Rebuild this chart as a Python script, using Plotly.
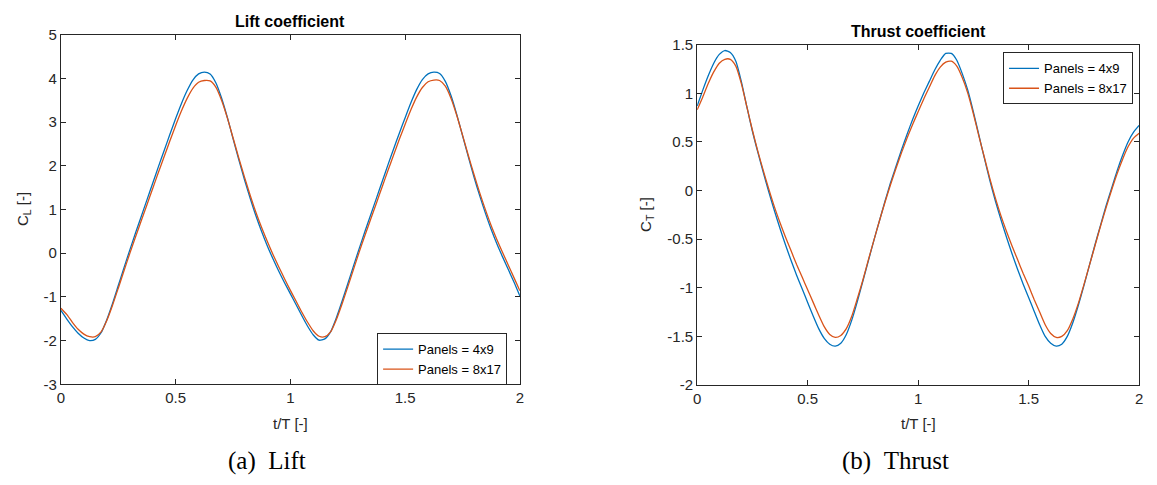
import plotly.graph_objects as go

# Non-dimensional time samples t/T
t_over_T = [
    0.000, 0.025, 0.050, 0.075, 0.100, 0.125, 0.150, 0.175, 0.200, 0.225,
    0.250, 0.275, 0.300, 0.325, 0.350, 0.375, 0.400, 0.425, 0.450, 0.475,
    0.500, 0.525, 0.550, 0.575, 0.600, 0.625, 0.650, 0.675, 0.700, 0.725,
    0.750, 0.775, 0.800, 0.825, 0.850, 0.875, 0.900, 0.925, 0.950, 0.975,
    1.000, 1.025, 1.050, 1.075, 1.100, 1.125, 1.150, 1.175, 1.200, 1.225,
    1.250, 1.275, 1.300, 1.325, 1.350, 1.375, 1.400, 1.425, 1.450, 1.475,
    1.500, 1.525, 1.550, 1.575, 1.600, 1.625, 1.650, 1.675, 1.700, 1.725,
    1.750, 1.775, 1.800, 1.825, 1.850, 1.875, 1.900, 1.925, 1.950, 1.975,
    2.000,
]

# Lift coefficient, coarse mesh (4x9 panels)
cl_4x9 = [
    -1.31, -1.50, -1.68, -1.83, -1.94, -2.00, -1.97, -1.82, -1.52, -1.15,
    -0.74, -0.33, 0.07, 0.46, 0.84, 1.22, 1.60, 1.98, 2.35, 2.72,
    3.08, 3.42, 3.72, 3.96, 4.10, 4.14, 4.10, 3.90, 3.55, 3.11,
    2.62, 2.14, 1.68, 1.25, 0.85, 0.49, 0.16, -0.14, -0.42, -0.68,
    -0.93, -1.18, -1.43, -1.67, -1.87, -1.99, -1.96, -1.80, -1.48, -1.10,
    -0.70, -0.29, 0.11, 0.50, 0.88, 1.26, 1.64, 2.02, 2.39, 2.75,
    3.10, 3.44, 3.74, 3.97, 4.10, 4.14, 4.11, 3.93, 3.60, 3.17,
    2.69, 2.21, 1.74, 1.31, 0.91, 0.54, 0.21, -0.09, -0.38, -0.67,
    -0.98,
]

# Lift coefficient, fine mesh (8x17 panels)
cl_8x17 = [
    -1.26, -1.40, -1.58, -1.74, -1.85, -1.91, -1.91, -1.80, -1.54, -1.19,
    -0.80, -0.40, -0.01, 0.37, 0.74, 1.11, 1.48, 1.85, 2.21, 2.57,
    2.92, 3.25, 3.54, 3.77, 3.91, 3.95, 3.94, 3.80, 3.50, 3.10,
    2.64, 2.18, 1.74, 1.32, 0.93, 0.58, 0.26, -0.04, -0.32, -0.59,
    -0.85, -1.10, -1.35, -1.58, -1.78, -1.90, -1.91, -1.80, -1.52, -1.16,
    -0.77, -0.37, 0.03, 0.41, 0.78, 1.15, 1.52, 1.89, 2.25, 2.61,
    2.95, 3.28, 3.57, 3.79, 3.92, 3.96, 3.95, 3.82, 3.54, 3.15,
    2.70, 2.24, 1.80, 1.38, 0.99, 0.63, 0.31, 0.01, -0.28, -0.57,
    -0.86,
]

# Thrust coefficient, coarse mesh (4x9 panels)
ct_4x9 = [
    0.87, 1.03, 1.18, 1.31, 1.40, 1.44, 1.42, 1.33, 1.12, 0.86,
    0.61, 0.39, 0.18, -0.02, -0.21, -0.39, -0.56, -0.72, -0.87, -1.01,
    -1.15, -1.29, -1.42, -1.52, -1.58, -1.60, -1.57, -1.48, -1.33, -1.14,
    -0.93, -0.72, -0.51, -0.31, -0.11, 0.08, 0.25, 0.42, 0.58, 0.73,
    0.87, 1.00, 1.12, 1.24, 1.34, 1.41, 1.41, 1.34, 1.20, 1.03,
    0.81, 0.57, 0.33, 0.10, -0.11, -0.30, -0.48, -0.65, -0.81, -0.96,
    -1.10, -1.24, -1.38, -1.50, -1.57, -1.60, -1.58, -1.50, -1.36, -1.18,
    -0.98, -0.77, -0.56, -0.36, -0.16, 0.02, 0.20, 0.36, 0.50, 0.60,
    0.67,
]

# Thrust coefficient, fine mesh (8x17 panels)
ct_8x17 = [
    0.83, 0.96, 1.10, 1.22, 1.31, 1.35, 1.35, 1.28, 1.10, 0.86,
    0.62, 0.40, 0.20, 0.01, -0.17, -0.33, -0.48, -0.62, -0.76, -0.89,
    -1.02, -1.15, -1.28, -1.40, -1.48, -1.51, -1.49, -1.42, -1.29, -1.11,
    -0.92, -0.71, -0.51, -0.31, -0.12, 0.06, 0.23, 0.39, 0.54, 0.68,
    0.81, 0.94, 1.06, 1.18, 1.27, 1.32, 1.33, 1.28, 1.16, 1.00,
    0.79, 0.56, 0.34, 0.12, -0.08, -0.26, -0.42, -0.57, -0.71, -0.85,
    -0.98, -1.12, -1.25, -1.38, -1.47, -1.51, -1.50, -1.44, -1.32, -1.16,
    -0.97, -0.77, -0.57, -0.37, -0.18, 0.00, 0.17, 0.32, 0.45, 0.54,
    0.59,
]

series_names = ["Panels = 4x9", "Panels = 8x17"]

# Tick positions and labels (hyphen-minus, as in the original axes)
x_ticks = [0, 0.5, 1, 1.5, 2]
x_tick_text = ["0", "0.5", "1", "1.5", "2"]
cl_ticks = [-3, -2, -1, 0, 1, 2, 3, 4, 5]
cl_tick_text = ["-3", "-2", "-1", "0", "1", "2", "3", "4", "5"]
ct_ticks = [-2, -1.5, -1, -0.5, 0, 0.5, 1, 1.5]
ct_tick_text = ["-2", "-1.5", "-1", "-0.5", "0", "0.5", "1", "1.5"]

BLUE = "#0072BD"
ORANGE = "#D95319"
AXIS = "#262626"
SANS = "Liberation Sans, Arial, sans-serif"
SERIF = "Liberation Serif, Times New Roman, serif"

W, H = 1157, 485


def px_x(p):
    return p / W


def px_y(p):
    return 1 - p / H


fig = go.Figure()

line_style = dict(width=1.3, shape="spline", smoothing=0.6)
fig.add_trace(go.Scatter(x=t_over_T, y=cl_4x9, name=series_names[0], mode="lines",
                         line=dict(color=BLUE, **line_style),
                         xaxis="x", yaxis="y", legend="legend"))
fig.add_trace(go.Scatter(x=t_over_T, y=cl_8x17, name=series_names[1], mode="lines",
                         line=dict(color=ORANGE, **line_style),
                         xaxis="x", yaxis="y", legend="legend"))
fig.add_trace(go.Scatter(x=t_over_T, y=ct_4x9, name=series_names[0], mode="lines",
                         line=dict(color=BLUE, **line_style),
                         xaxis="x2", yaxis="y2", legend="legend2"))
fig.add_trace(go.Scatter(x=t_over_T, y=ct_8x17, name=series_names[1], mode="lines",
                         line=dict(color=ORANGE, **line_style),
                         xaxis="x2", yaxis="y2", legend="legend2"))

axis_common = dict(
    showline=True, linecolor=AXIS, linewidth=1, mirror="ticks",
    ticks="inside", ticklen=5, tickcolor=AXIS, tickwidth=1,
    showgrid=False, zeroline=False,
    tickfont=dict(family=SANS, size=15, color=AXIS),
    fixedrange=True,
)

# Left panel: 57..519 px wide, 26.5..389 px tall
left_x = [px_x(57.3), px_x(519.5)]
left_y = [px_y(389), px_y(26.5)]
# Right panel: 698..1143 px wide, 37..389.7 px tall
right_x = [px_x(698), px_x(1143)]
right_y = [px_y(389.7), px_y(37)]

legend_common = dict(
    xanchor="left", yanchor="top",
    bgcolor="white", bordercolor=AXIS, borderwidth=1,
    font=dict(family=SANS, size=13, color="#000000"),
    tracegroupgap=0, itemwidth=30,
)

fig.update_layout(
    width=W, height=H,
    margin=dict(l=0, r=0, t=0, b=0),
    paper_bgcolor="white", plot_bgcolor="white",
    xaxis=dict(domain=left_x, range=[0, 2], tickvals=x_ticks, ticktext=x_tick_text,
               anchor="y", **axis_common),
    yaxis=dict(domain=left_y, range=[-3, 5], tickvals=cl_ticks, ticktext=cl_tick_text,
               anchor="x", **axis_common),
    xaxis2=dict(domain=right_x, range=[0, 2], tickvals=x_ticks, ticktext=x_tick_text,
                anchor="y2", **axis_common),
    yaxis2=dict(domain=right_y, range=[-2, 1.5], tickvals=ct_ticks, ticktext=ct_tick_text,
                anchor="x2", **axis_common),
    legend=dict(x=px_x(375.7), y=px_y(336), **legend_common),
    legend2=dict(x=px_x(1006), y=px_y(45), **legend_common),
    showlegend=True,
)

annotations = [
    # panel titles
    dict(text="<b>Lift coefficient</b>", x=px_x(288.4), y=px_y(13.3),
         font=dict(family=SANS, size=16, color="#000000")),
    dict(text="<b>Thrust coefficient</b>", x=px_x(920.5), y=px_y(23.3),
         font=dict(family=SANS, size=16, color="#000000")),
    # x-axis titles
    dict(text="t/T [-]", x=px_x(288.4), y=px_y(429.3),
         font=dict(family=SANS, size=15, color=AXIS)),
    dict(text="t/T [-]", x=px_x(920.5), y=px_y(429.3),
         font=dict(family=SANS, size=15, color=AXIS)),
    # y-axis titles
    dict(text="C<sub>L</sub> [-]", x=px_x(19.7), y=px_y(207.7), textangle=-90,
         font=dict(family=SANS, size=15, color=AXIS)),
    dict(text="C<sub>T</sub> [-]", x=px_x(647.6), y=px_y(213.3), textangle=-90,
         font=dict(family=SANS, size=15, color=AXIS)),
    # sub-figure captions
    dict(text="(a)\u2002Lift", x=px_x(265), y=px_y(468),
         font=dict(family=SERIF, size=25, color="#000000")),
    dict(text="(b)\u2002Thrust", x=px_x(898), y=px_y(468),
         font=dict(family=SERIF, size=25, color="#000000")),
]
for a in annotations:
    a.update(xref="paper", yref="paper", showarrow=False,
             xanchor="center", yanchor="middle")
fig.update_layout(annotations=annotations)

fig.write_html("out.html", config={"displayModeBar": False})
